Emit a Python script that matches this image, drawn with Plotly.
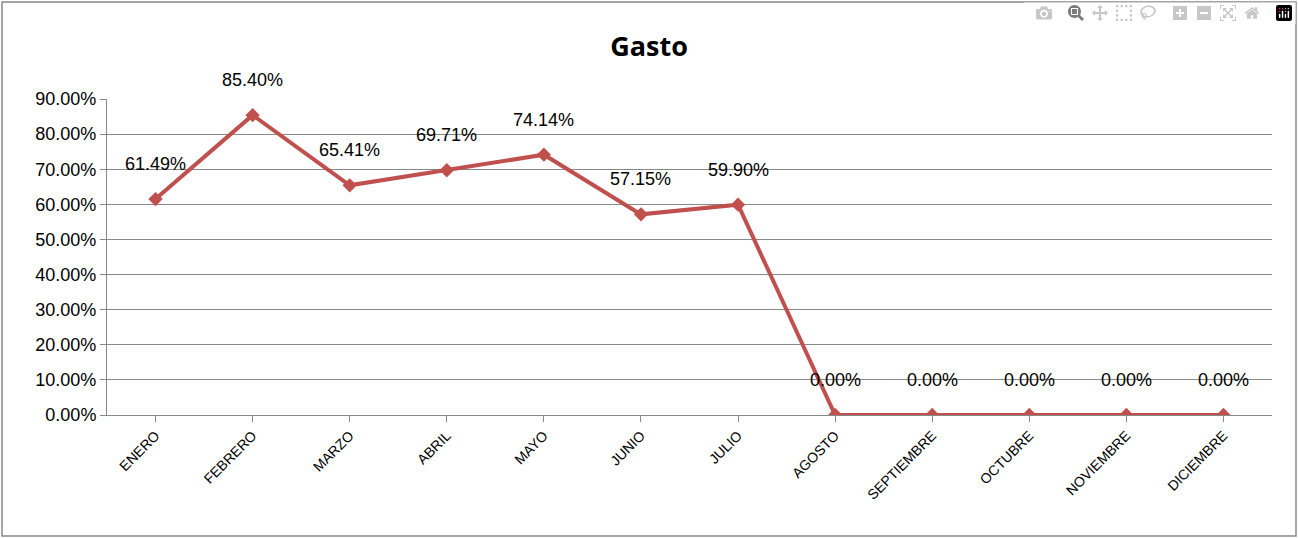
import plotly.graph_objects as go

months = ["ENERO","FEBRERO","MARZO","ABRIL","MAYO","JUNIO","JULIO","AGOSTO","SEPTIEMBRE","OCTUBRE","NOVIEMBRE","DICIEMBRE"]
gasto = [61.49,85.40,65.41,69.71,74.14,57.15,59.90,0,0,0,0,0]
yticks = [0,10,20,30,40,50,60,70,80,90]

W,H=1298,538
l,r,t,b=107,26,99,123
fig=go.Figure(go.Scatter(x=months,y=gasto,mode="lines+markers",
    line=dict(color="#C0504D",width=4),
    marker=dict(symbol="diamond",size=11,color="#C0504D"),hoverinfo="skip"))
for m,v in zip(months,gasto):
    fig.add_annotation(x=m,y=v,text=f"{v:.2f}%",showarrow=False,yshift=35,
        font=dict(size=18,color="black",family="Liberation Sans, Arial"))
pw,ph=W-l-r,H-t-b
fig.add_shape(type="rect",xref="paper",yref="paper",
    x0=-(l-2)/pw,x1=1+(r-2)/pw,y0=-(b-2)/ph,y1=1+(t-2)/ph,
    line=dict(color="#888888",width=1.5),layer="below")
fig.update_layout(width=W,height=H,margin=dict(l=l,r=r,t=t,b=b),
    plot_bgcolor="white",paper_bgcolor="white",showlegend=False,
    font=dict(family="Liberation Sans, Arial",color="black"),
    title=dict(text="<b>Gasto</b>",x=0.5,xanchor="center",y=1-47/H,yanchor="middle",
        font=dict(size=27,family="Open Sans, Liberation Sans",color="black")),
    xaxis=dict(range=[-0.5,11.5],tickangle=-45,tickfont=dict(size=14),
        showline=True,linecolor="#888",ticks="outside",ticklen=6,tickcolor="#888",showgrid=False),
    yaxis=dict(range=[0,90],tickvals=yticks,ticktext=[f"{v:.2f}%" for v in yticks],
        tickfont=dict(size=18),showgrid=True,gridcolor="#888",gridwidth=1.2,
        showline=True,linecolor="#888",ticks="outside",ticklen=6,tickcolor="#888",zeroline=False))
fig.write_html("out.html")
with open("out.html",encoding="utf-8") as f:
    html=f.read()
html=html.replace("<body>","<body style=\"margin:0;overflow:hidden\">",1)
with open("out.html","w",encoding="utf-8") as f:
    f.write(html)
